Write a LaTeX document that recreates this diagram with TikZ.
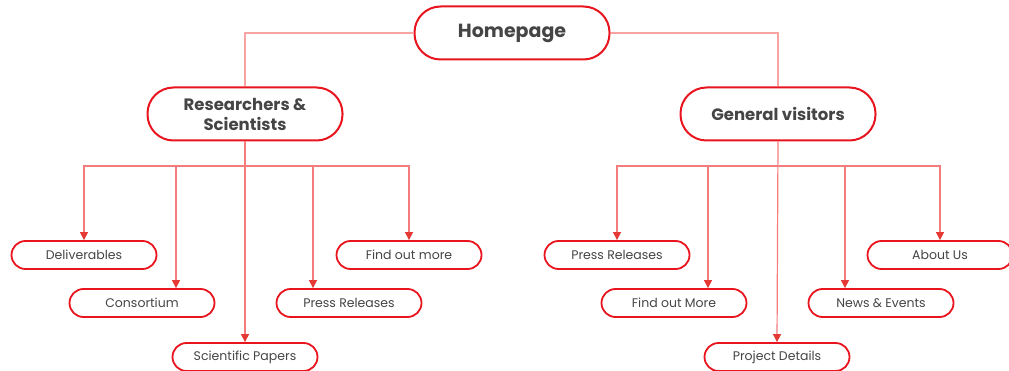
\documentclass[tikz,border=0pt]{standalone}
\usepackage{fontspec}
\setmainfont{Poppins}
\usepackage{tikz}
\usetikzlibrary{arrows.meta,positioning,calc}
\definecolor{mapred}{HTML}{E8141E}
\definecolor{maplink}{HTML}{F57C7C}
\definecolor{mappale}{HTML}{F9A3A3}
\definecolor{maptip}{HTML}{E53935}
\definecolor{mapink}{HTML}{454545}

\tikzset{
  hub/.style={draw=mapred, fill=white, line width=2pt, rounded corners=26pt,
    minimum width=195pt, minimum height=53pt, align=center, text=mapink,
    font=\bfseries\fontsize{16.5}{20}\selectfont},
  leaf/.style={draw=mapred, fill=white, line width=1.8pt, rounded corners=14pt,
    minimum width=145pt, minimum height=28pt, text=mapink,
    font=\fontsize{12.5}{14}\selectfont},
  link/.style={draw=maplink, line width=1.2pt},
  pointer/.style={link, -{Triangle[width=8pt,length=8pt,fill=maptip,color=maptip]}}
}

\begin{document}
\begin{tikzpicture}[x=1pt,y=-1pt]
  \useasboundingbox (0,0) rectangle (1009,371);

  % Top level
  \node[hub, font=\bfseries\fontsize{19}{22}\selectfont] (home) at (512,33) {Homepage};
  \node[hub] (res) at (245,114) {Researchers \&\\Scientists};
  \node[hub] (gen) at (778,114) {General visitors};

  \draw[link, draw=mappale] (home.west) -| (res.north);
  \draw[link, draw=mappale] (home.east) -| (gen.north);

  % Researchers branch
  \node[leaf] (deliv) at (84,255) {Deliverables};
  \node[leaf] (cons) at (142,303) {Consortium};
  \node[leaf] (papers) at (245,357) {Scientific Papers};
  \node[leaf] (rpress) at (349,303) {Press Releases};
  \node[leaf] (rmore) at (409,255) {Find out more};

  \coordinate (rbus) at (245,166);
  \draw[pointer] (rbus) -| (deliv.north);
  \draw[pointer] (rbus) -| ([xshift=34pt]cons.north);
  \draw[pointer] (res.south) -- (papers.north);
  \draw[pointer] (rbus) -| ([xshift=-36pt]rpress.north);
  \draw[pointer] (rbus) -| (rmore.north);

  % General visitors branch
  \node[leaf] (gpress) at (617,255) {Press Releases};
  \node[leaf] (gmore) at (674,303) {Find out More};
  \node[leaf] (project) at (777,357) {Project Details};
  \node[leaf] (news) at (881,303) {News \& Events};
  \node[leaf] (about) at (940,255) {About Us};

  \coordinate (gbus) at (778,166);
  \draw[pointer] (gbus) -| (gpress.north);
  \draw[pointer] (gbus) -| ([xshift=34pt]gmore.north);
  \draw[pointer] (gen.south) -- (project.north);
  \draw[pointer] (gbus) -| ([xshift=-36pt]news.north);
  \draw[pointer] (gbus) -| (about.north);
\end{tikzpicture}
\end{document}
